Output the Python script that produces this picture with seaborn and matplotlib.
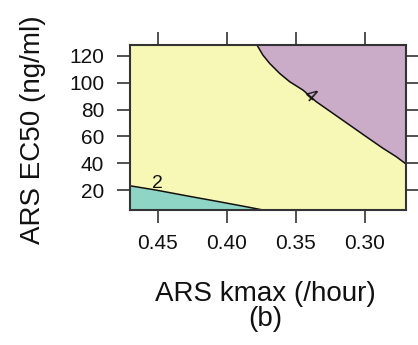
import matplotlib
matplotlib.use("Agg")
import matplotlib.pyplot as plt
import seaborn as sns

# Contour boundary (level 4): ARS kmax vs ARS EC50
level4_kmax = [0.3780, 0.3737, 0.3688, 0.3616, 0.3543, 0.3447, 0.3350,
               0.3230, 0.3109, 0.2988, 0.2867, 0.2770, 0.2700]
level4_ec50 = [128.0, 120.5, 114.3, 106.9, 100.7, 94.5, 85.8,
               77.2, 68.5, 59.8, 51.2, 44.9, 39.5]

# Contour boundary (level 2)
level2_kmax = [0.4700, 0.4510, 0.4292, 0.4051, 0.3857, 0.3737]
level2_ec50 = [23.3, 20.1, 15.9, 11.4, 7.7, 5.3]

contour_labels = ["2", "4"]
label_kmax = [0.450, 0.3403]
label_ec50 = [25.0, 90.0]

x_ticks = [0.45, 0.40, 0.35, 0.30]
x_tick_labels = ["0.45", "0.40", "0.35", "0.30"]
y_ticks = [20, 40, 60, 80, 100, 120]
x_range = (0.47, 0.27)
y_range = (5.3, 128.0)

col_low = "#8ED5C6"
col_mid = "#F7F7B6"
col_high = "#CAABC8"
edge = "#333333"

sns.set_theme(style="white")
plt.rcParams["font.family"] = ["Liberation Sans", "DejaVu Sans"]

fig = plt.figure(figsize=(4.18, 3.45), dpi=100)
ax = fig.add_axes([130/418, 1-210/345, 276/418, 165/345])
ax.set_facecolor(col_mid)

ax.fill_between(level4_kmax, level4_ec50, y_range[1], color=col_high, lw=0)
ax.fill_between(level2_kmax, y_range[0], level2_ec50, color=col_low, lw=0)

sns.lineplot(x=level4_kmax, y=level4_ec50, sort=False, color="#111111", lw=1.1, ax=ax)
sns.lineplot(x=level2_kmax, y=level2_ec50, sort=False, color="#111111", lw=1.1, ax=ax)

ax.text(label_kmax[0], label_ec50[0], contour_labels[0], fontsize=14,
        ha="center", va="center", color="#111111")
ax.text(label_kmax[1], label_ec50[1], contour_labels[1], fontsize=13,
        ha="center", va="center", rotation=-42, color="#111111")

ax.set_xlim(*x_range)
ax.set_ylim(*y_range)
ax.set_xticks(x_ticks)
ax.set_xticklabels(x_tick_labels)
ax.set_yticks(y_ticks)
ax.tick_params(direction="out", length=9.5, width=1.2, color=edge, labelsize=15,
               top=True, right=True, bottom=True, left=True,
               labeltop=False, labelright=False, labelcolor="#111111")
ax.tick_params(axis="x", pad=8)
ax.tick_params(axis="y", pad=9)
for s in ax.spines.values():
    s.set_color(edge)
    s.set_linewidth(1.5)

ax.set_xlabel("ARS kmax (/hour)\n(b)", fontsize=20, color="#111111", linespacing=0.95)
ax.xaxis.set_label_coords(0.489, -0.43)
ax.set_ylabel("ARS EC50 (ng/ml)", fontsize=20, color="#111111")
ax.yaxis.set_label_coords(-0.304, 0.488)

fig.savefig("out.png", dpi=100)
